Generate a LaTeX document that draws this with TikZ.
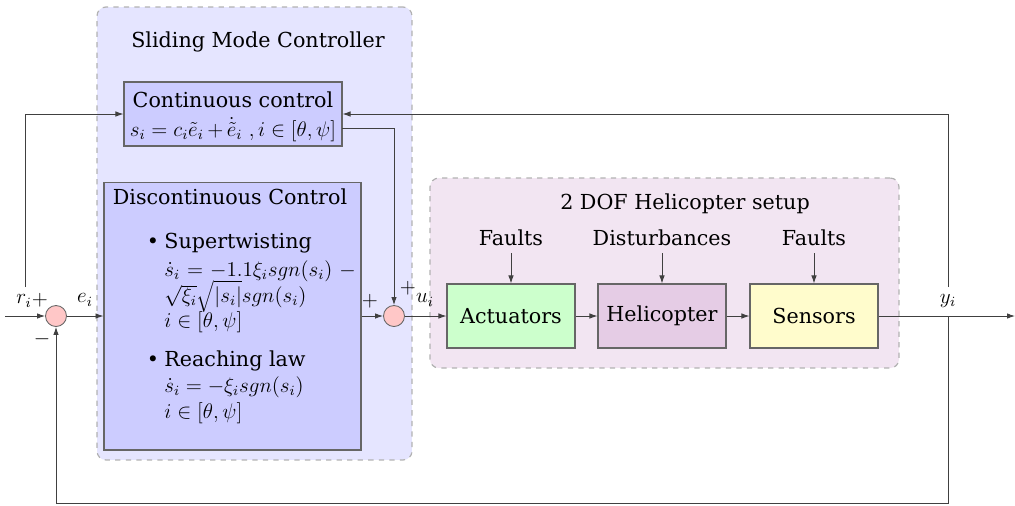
\documentclass[tikz,border=0pt]{standalone}
\usepackage[no-math]{fontspec}
\setmainfont{DejaVu Serif}[Scale=0.98]
\usetikzlibrary{arrows.meta}
\begin{document}
\begin{tikzpicture}[x=0.02cm,y=-0.02cm,
  font=\fontsize{12}{14}\selectfont,
  line/.style={draw=black!75, line width=0.5pt},
  arr/.style={line, -{Latex[length=1.6mm,width=1.1mm]}},
  outerbox/.style={draw=gray!60, dashed, rounded corners=5pt, line width=0.7pt},
  blockbox/.style={draw=black!60, line width=0.6pt, inner sep=0pt},
  sumnode/.style={circle, draw=black!60, fill=red!22, minimum size=0.42cm, inner sep=0pt, line width=0.5pt},
  lbl/.style={inner sep=1pt},
  itm/.style={inner sep=0pt, anchor=west}
]
\useasboundingbox (0,0) rectangle (1015,505);
% groups
\node[outerbox, fill=blue!10, minimum width=6.3cm, minimum height=9.06cm] (smc) at (254.5,233.5) {};
\node[lbl] (smctitle) at (258,42) {Sliding Mode Controller};
\node[outerbox, fill=violet!10, minimum width=9.38cm, minimum height=3.8cm] (heli) at (664.5,273) {};
\node[lbl] (helititle) at (685,204) {2 DOF Helicopter setup};
% blocks
\node[blockbox, fill=blue!20, minimum width=4.36cm, minimum height=1.28cm] (cont) at (233,114) {};
\node[lbl] (conttitle) at (233,100) {Continuous control};
\node[lbl] (contmath) at (233,130) {$s_i = c_i\tilde{e}_i\,{+}\,\dot{\tilde{e}}_i\ ,i \in [\theta,\psi]$};
\node[blockbox, fill=blue!20, minimum width=5.14cm, minimum height=5.36cm] (disc) at (232.5,316) {};
\node[lbl] (disctitle) at (230,197) {Discontinuous Control};
\node[lbl] (b1) at (153,243) {\textbullet};
\node[itm] (st) at (164,243) {Supertwisting};
\node[itm] (st1) at (164,271) {${\dot{s}_i}\mskip 6mu{=}\mskip 6mu{-1.1\xi_i sgn(s_i)}\mskip 6mu{-}$};
\node[itm] (st2) at (164,296) {$\sqrt{\xi_i}\sqrt{|s_i|}sgn(s_i)$};
\node[itm] (st3) at (164,322) {$i\in[\theta,\psi]$};
\node[lbl] (b2) at (153,361) {\textbullet};
\node[itm] (rl) at (164,361) {Reaching law};
\node[itm] (rl1) at (164,387) {$\dot{s}_i = -\xi_i sgn(s_i)$};
\node[itm] (rl2) at (164,413) {$i\in[\theta,\psi]$};
\node[blockbox, fill=green!20, minimum width=2.56cm, minimum height=1.28cm] (act) at (511,316) {Actuators};
\node[blockbox, fill=violet!20, minimum width=2.56cm, minimum height=1.28cm] (hel) at (662,316) {Helicopter};
\node[blockbox, fill=yellow!20, minimum width=2.56cm, minimum height=1.28cm] (sen) at (814,316) {Sensors};
\node[sumnode] (sum1) at (56,316) {};
\node[sumnode] (sum2) at (394,316) {};
% disturbance labels
\node[lbl] (f1) at (511,238) {Faults};
\node[lbl] (dist) at (662,238) {Disturbances};
\node[lbl] (f2) at (814,238) {Faults};
\coordinate (f1s) at (511,253);
\coordinate (dists) at (662,253);
\coordinate (f2s) at (814,253);
\draw[arr] (f1s) -- (act.north);
\draw[arr] (dists) -- (hel.north);
\draw[arr] (f2s) -- (sen.north);
% signal labels
\node[lbl] (rlbl) at (24,301) {$r_i$};
\node[lbl] (p1) at (40,300) {$+$};
\node[lbl] (m1) at (42,339) {$-$};
\node[lbl] (elbl) at (85,300) {$e_i$};
\node[lbl] (p2) at (370,301) {$+$};
\node[lbl] (p3) at (408,288) {$+$};
\node[lbl] (ulbl) at (425,300) {$u_i$};
\node[lbl] (ylbl) at (948,301) {$y_i$};
% signal coordinates
\coordinate (in) at (5,316);
\coordinate (rb) at (25,287);
\coordinate (rtop) at (25,114);
\coordinate (yb) at (948,287);
\coordinate (yb2) at (948,316);
\coordinate (ytop) at (948,114);
\coordinate (ybot) at (948,503);
\coordinate (sbot) at (56,503);
\coordinate (out) at (1015,316);
\coordinate (cout) at (342,128);
\coordinate (ccorner) at (394,128);
% connectors
\draw[arr] (in) -- (sum1.west);
\draw[arr] (rb) -- (rtop) -- (cont.west);
\draw[arr] (sum1.east) -- (disc.west);
\draw[arr] (disc.east) -- (sum2.west);
\draw[arr] (cout) -- (ccorner) -- (sum2.north);
\draw[arr] (sum2.east) -- (act.west);
\draw[arr] (act.east) -- (hel.west);
\draw[arr] (hel.east) -- (sen.west);
\draw[arr] (sen.east) -- (out);
\draw[arr] (yb) -- (ytop) -- (cont.east);
\draw[arr] (yb2) -- (ybot) -- (sbot) -- (sum1.south);
\end{tikzpicture}
\end{document}
